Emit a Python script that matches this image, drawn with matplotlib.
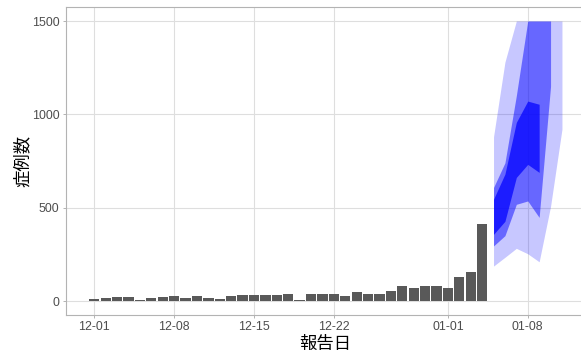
import numpy as np
import pandas as pd
import matplotlib
matplotlib.use("Agg")
import matplotlib.pyplot as plt
import matplotlib.dates as mdates

# reported cases per day, 12-01 .. 01-04
report_dates = pd.date_range("2020-12-01", "2021-01-04", freq="D")
cases = [13, 18, 22, 19, 5, 18, 21, 25, 15, 25, 15, 12, 26, 33, 33, 33, 33, 39,
         5, 38, 38, 38, 28, 48, 35, 35, 51, 83, 72, 83, 79, 69, 129, 154, 415]

# projection bands, 01-05 .. 01-11 (upper values squished to 1500)
proj_dates = pd.date_range("2021-01-05", "2021-01-11", freq="D")
nan = np.nan
outer_lo = [187, 234, 282, 253, 210, 507, 920]
outer_hi = [880, 1280, 1500, 1500, 1500, 1500, 1500]
mid_lo = [295, 350, 518, 536, 448, 1150, nan]
mid_hi = [608, 740, 1100, 1500, 1500, 1500, nan]
inner_lo = [357, 427, 662, 732, 689, nan, nan]
inner_hi = [545, 680, 957, 1071, 1054, nan, nan]

tick_dates = pd.to_datetime(["2020-12-01", "2020-12-08", "2020-12-15",
                             "2020-12-22", "2021-01-01", "2021-01-08"])
y_ticks = [0, 500, 1000, 1500]

jp = ["Noto Sans CJK JP", "DejaVu Sans"]
num = ["Liberation Sans", "DejaVu Sans"]

fig = plt.figure(figsize=(5.81, 3.53), dpi=100)
ax = fig.add_axes([65.7 / 581, 38 / 353, 519.3 / 581, 308 / 353])

ax.bar(report_dates, cases, width=0.9, color="#595959", zorder=2)

bands = [(outer_lo, outer_hi, 0.22), (mid_lo, mid_hi, 0.48), (inner_lo, inner_hi, 0.72)]
for lo, hi, a in bands:
    ax.fill_between(proj_dates, np.array(lo, float), np.array(hi, float),
                    color="blue", alpha=a, lw=0, zorder=3)

start = report_dates[0]
ax.set_xlim(start - pd.Timedelta(days=2.51), start + pd.Timedelta(days=43.02))
ax.set_ylim(-75, 1575)

ax.set_xticks(tick_dates)
ax.xaxis.set_major_formatter(mdates.DateFormatter("%m-%d"))
ax.set_yticks(y_ticks)

ax.set_axisbelow(True)
ax.grid(True, color="#DEDEDE", lw=0.8)
for s in ax.spines.values():
    s.set_color("#B3B3B3")
    s.set_linewidth(0.8)
ax.tick_params(length=2.5, width=0.7, color="#B3B3B3", pad=2,
               labelsize=8.9, labelcolor="#4D4D4D")
for lab in ax.get_xticklabels() + ax.get_yticklabels():
    lab.set_family(num)

ax.set_xlabel("報告日", family=jp, fontsize=12.5, labelpad=1)
ax.set_ylabel("症例数", family=jp, fontsize=12.5, labelpad=0)

fig.savefig("out.png", dpi=100)
